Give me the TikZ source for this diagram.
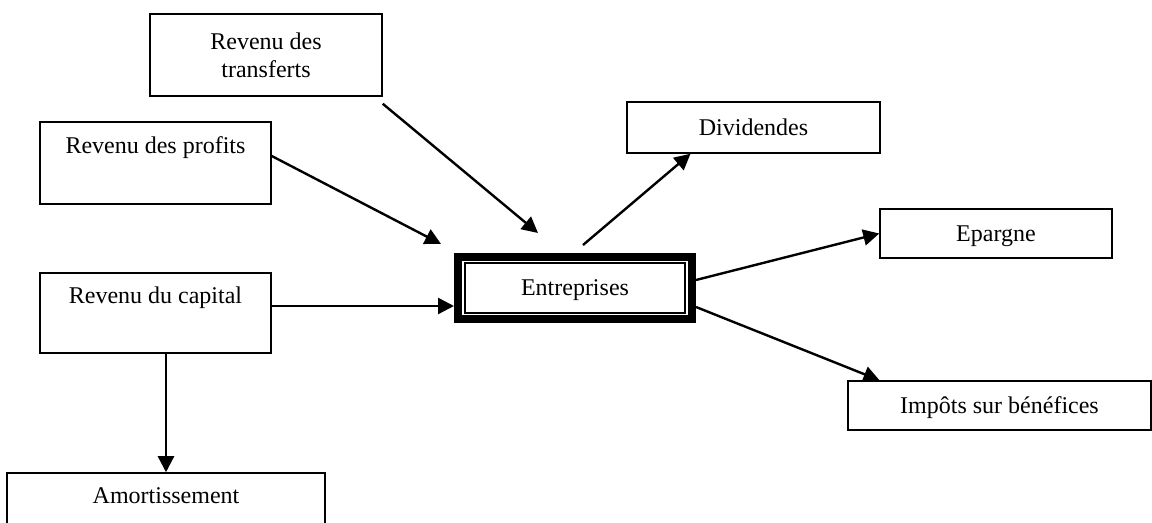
\documentclass[tikz,border=0pt]{standalone}
\usepackage{fontspec}
\setmainfont{Liberation Serif}
\usetikzlibrary{arrows.meta}
\tikzset{
every picture/.style={line width=1.2pt, >={Triangle[length=8pt,width=8pt]}},
%%%%%%%%%%  Node styles
flowbox/.style={draw, line width=0.75pt, align=center, inner sep=2pt,
                font=\fontsize{12}{14}\selectfont},
%% one-line boxes: center on the capitals, not on the descenders
linebox/.style={flowbox, text depth=0pt},
firmbox/.style={draw, line width=4pt, align=center, inner sep=2pt,
                minimum width=117pt, minimum height=31pt, text depth=0pt,
                font=\fontsize{12}{14}\selectfont},
%%%%%%% flow arrows
flow/.style={->, line width=1.2pt}
}

\begin{document}
\begin{tikzpicture}[x=0.5pt, y=-0.5pt]
\useasboundingbox (0,0) rectangle (1152,523);
%% incomes on the left
\node[flowbox, minimum width=116pt, minimum height=41pt] (trans) at (266,55)
	{Revenu des\\transferts};
\node[flowbox, minimum width=115.5pt, minimum height=41pt] (prof) at (155.5,163)
	{Revenu des profits\\\strut};
\node[flowbox, minimum width=115.5pt, minimum height=40pt] (cap) at (155.5,313)
	{Revenu du capital\\\strut};
\node[flowbox, minimum width=159pt, minimum height=41pt] (amort) at (166,514)
	{Amortissement\\\strut};
%% the firm, thick-thin frame
\node[firmbox] (ent) at (575,288) {Entreprises};
\draw[line width=0.75pt] ([shift={(5.5pt,5pt)}]ent.south west)
	rectangle ([shift={(-5.5pt,-5pt)}]ent.north east);
%% uses on the right
\node[linebox, minimum width=126.5pt, minimum height=25.5pt] (div) at (753.5,127.5)
	{Dividendes};
\node[linebox, minimum width=116pt, minimum height=24.5pt] (epar) at (996,233.5)
	{Epargne};
\node[linebox, minimum width=151.5pt, minimum height=24.5pt] (imp) at (999.5,405.5)
	{Impôts sur bénéfices};
%% incoming flows
\coordinate (transin) at (538,233);
\coordinate (profin) at (441,244);
\coordinate (capout) at ([yshift=3.5pt]cap.east);
\draw[flow] ([yshift=-3.5pt]trans.south east) -- (transin);
\draw[flow] ([yshift=3.5pt]prof.east) -- (profin);
\draw[flow] (capout) -- (capout -| ent.west);
\draw[flow] (amort.north |- cap.south) -- (amort.north);
%% outgoing flows
\coordinate (divout) at (583,245);
\draw[flow] (divout) -- ([xshift=-31.5pt]div.south);
\draw[flow] ([yshift=4pt]ent.east) -- (epar.west);
\draw[flow] ([yshift=-9.5pt]ent.east) -- ([xshift=-60pt]imp.north);
\end{tikzpicture}
\end{document}
